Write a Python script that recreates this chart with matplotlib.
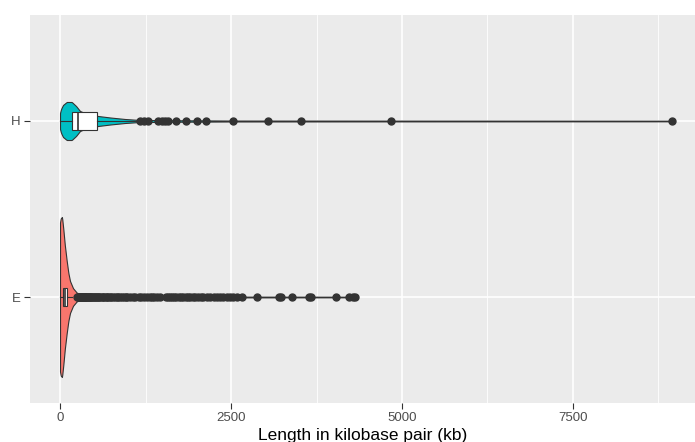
import numpy as np
import matplotlib
matplotlib.use("Agg")
import matplotlib.pyplot as plt

# categories (bottom to top)
groups = ["E", "H"]
fills = ["#F8766D", "#00BFC4"]

# violin outlines: length (kb) and relative half-width
e_len = [0, 10, 29, 48, 70, 98, 122, 146, 190, 244, 300, 365, 500, 800, 1500, 2500, 4330]
e_dens = [0.93, 0.98, 1.0, 0.85, 0.65, 0.45, 0.3, 0.2, 0.11, 0.055, 0.033,
          0.02, 0.0125, 0.009, 0.006, 0.005, 0.004]
h_len = [0, 15, 44, 98, 171, 234, 292, 360, 439, 556, 731, 950, 1126, 1500, 2500, 4840, 8950]
h_dens = [0.1, 0.15, 0.2, 0.2375, 0.2375, 0.1875, 0.125, 0.1, 0.081, 0.0625, 0.044,
          0.025, 0.015, 0.01, 0.006, 0.005, 0.004]

# box statistics (kb)
e_box = dict(whislo=5, q1=48, med=68, q3=98, whishi=173)
h_box = dict(whislo=0, q1=171, med=259, q3=545, whishi=1120)

# outliers (kb)
e_out = [255, 262, 270, 278, 285, 293, 301, 310, 318, 327, 335, 344, 352, 361, 370,
         380, 390, 400, 411, 422, 433, 445, 457, 470, 483, 497, 510, 525, 540, 556,
         572, 590, 608, 626, 645, 665, 686, 708, 730, 752, 776, 800, 826, 852, 880,
         905, 930, 958, 985, 1023, 1060, 1100, 1150, 1190, 1230, 1270, 1310, 1345,
         1380, 1420, 1460, 1555, 1580, 1610, 1640, 1668, 1700, 1735, 1770, 1800,
         1840, 1875, 1905, 1940, 1980, 2020, 2060, 2090, 2150, 2200, 2250, 2300,
         2345, 2390, 2440, 2490, 2534, 2590, 2658, 2886, 3208, 3230, 3398, 3647,
         3670, 4038, 4232, 4290, 4316]
h_out = [1170, 1228, 1291, 1437, 1487, 1535, 1584, 1696, 1842, 1999, 2135, 2525,
         3037, 3524, 4840, 8948]

dark = "#333333"

fig = plt.figure(figsize=(6.95, 4.42), dpi=100)
ax = fig.add_axes([30 / 695, 39.4 / 442, 665 / 695, 387.2 / 442])
ax.set_facecolor("#EBEBEB")

# grid
for v in [1250, 3750, 6250, 8750]:
    ax.axvline(v, color="white", lw=0.6, zorder=0)
for v in [0, 2500, 5000, 7500]:
    ax.axvline(v, color="white", lw=1.2, zorder=0)
for y in [1, 2]:
    ax.axhline(y, color="white", lw=1.2, zorder=0)

max_half = 0.455
profiles = [(e_len, e_dens), (h_len, h_dens)]
for pos, (lens, dens), col in zip([1, 2], profiles, fills):
    xs = np.linspace(lens[0], lens[-1], 800)
    w = np.interp(xs, lens, dens) * max_half
    ax.fill_between(xs, pos - w, pos + w, facecolor=col, edgecolor=dark,
                    lw=0.8, zorder=2)

stats = []
for name, b, out in [("E", e_box, e_out), ("H", h_box, h_out)]:
    s = dict(b)
    s["fliers"] = np.array(out)
    s["label"] = name
    stats.append(s)

ax.bxp(stats, positions=[1, 2], widths=0.1, orientation="horizontal",
       showcaps=False, patch_artist=True,
       boxprops=dict(facecolor="white", edgecolor=dark, lw=0.8),
       medianprops=dict(color=dark, lw=1.2),
       whiskerprops=dict(color=dark, lw=0.8),
       flierprops=dict(marker="o", markerfacecolor=dark, markeredgecolor=dark,
                       markersize=5, alpha=1),
       zorder=3)

ax.set_xlim(-439, 9284)
ax.set_ylim(0.4, 2.6)
ax.set_xticks([0, 2500, 5000, 7500])
ax.set_xticklabels(["0", "2500", "5000", "7500"])
ax.set_yticks([1, 2])
ax.set_yticklabels(groups)
for s in ax.spines.values():
    s.set_visible(False)
ax.tick_params(axis="both", colors=dark, length=4, width=0.8, labelsize=9.5,
               labelcolor="#4D4D4D", pad=3)
for lab in ax.get_xticklabels() + ax.get_yticklabels():
    lab.set_family("Liberation Sans")
ax.set_xlabel("Length in kilobase pair (kb)", family="Liberation Sans",
              fontsize=12.5, labelpad=3)

fig.savefig("out.png", dpi=100)
